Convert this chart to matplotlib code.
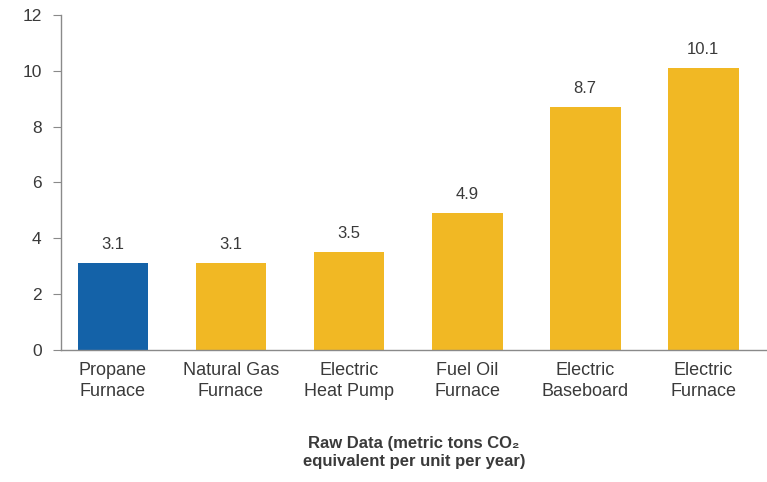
import numpy as np
import matplotlib.pyplot as plt

plt.rcParams['font.family'] = ['Liberation Sans', 'DejaVu Sans']

# Data
categories = ['Propane\nFurnace', 'Natural Gas\nFurnace', 'Electric\nHeat Pump',
              'Fuel Oil\nFurnace', 'Electric\nBaseboard', 'Electric\nFurnace']
values = [3.1, 3.1, 3.5, 4.9, 8.7, 10.1]
value_labels = ['3.1', '3.1', '3.5', '4.9', '8.7', '10.1']

blue = '#1462a8'
yellow = '#f1b824'
colors = [blue] + [yellow] * 5
text_col = '#3a3a3a'
axis_col = '#8a8a8a'

fig = plt.figure(figsize=(7.67, 4.82), dpi=100)
ax = fig.add_axes([0.0795, 0.274, 0.9205, 0.695])

x = np.arange(len(categories))
bars = ax.bar(x, values, width=0.6, color=colors)

for xi, v, lab in zip(x, values, value_labels):
    ax.annotate(lab, (xi, v), xytext=(0, 8), textcoords='offset points',
                ha='center', va='bottom', fontsize=12, color=text_col)

ax.set_xlim(-0.44, 5.54)
ax.set_ylim(0, 12)
ax.set_yticks(range(0, 13, 2))
ax.set_xticks(x)
ax.set_xticklabels(categories, fontsize=13, color=text_col, linespacing=1.3)

ax.tick_params(axis='y', length=6, color=axis_col, labelsize=12.5,
               labelcolor=text_col, pad=8)
ax.tick_params(axis='x', length=0, pad=9)

for s in ['top', 'right']:
    ax.spines[s].set_visible(False)
for s in ['left', 'bottom']:
    ax.spines[s].set_color(axis_col)
    ax.spines[s].set_linewidth(1)

ax.set_xlabel('Raw Data (metric tons CO\u2082\nequivalent per unit per year)',
              fontsize=12, fontweight='bold', color=text_col, labelpad=26,
              linespacing=1.25)

fig.savefig('out.png', dpi=100)
